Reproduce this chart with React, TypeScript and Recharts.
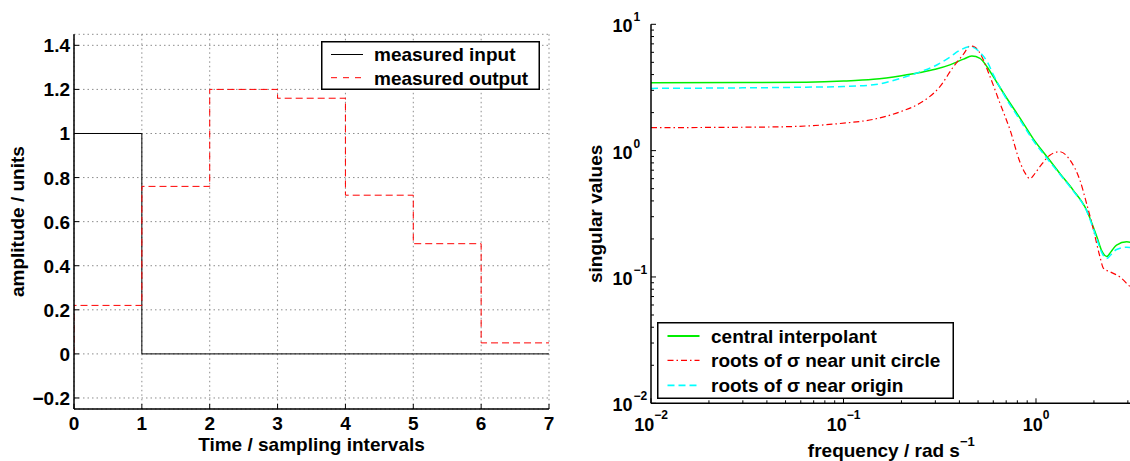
import React from "react";
import { CartesianGrid, Label, Legend, Line, LineChart, XAxis, YAxis } from "recharts";

const FONT = '"Liberation Sans", Arial, Helvetica, sans-serif';
const MINUS = "\u2212";

// left panel: sampled input / output sequences
const sampleTimes = [0, 1, 2, 3, 4, 5, 6, 7];
const inputValues = [1, 0, 0, 0, 0, 0, 0, 0];
const outputTimes = [0, 0, 1, 2, 3, 4, 5, 6, 7];
const outputValues = [0, 0.22, 0.76, 1.2, 1.16, 0.72, 0.5, 0.05, 0.05];
const timeTicks = [0, 1, 2, 3, 4, 5, 6, 7];
const amplitudeTicks = [-0.2, 0, 0.2, 0.4, 0.6, 0.8, 1, 1.2, 1.4];
const leftLegendNames = ["measured input", "measured output"];

// right panel: singular values vs frequency (log-log)
const centralFreq = [0.01, 0.03, 0.064, 0.1, 0.143, 0.2, 0.25, 0.3, 0.357, 0.42, 0.464, 0.512, 0.56, 0.6, 0.704, 0.826, 0.968, 1.14, 1.33, 1.56, 1.83, 2.07, 2.2, 2.33, 2.45, 2.62, 2.96, 3.1416];
const centralSv = [3.45, 3.46, 3.48, 3.55, 3.67, 3.92, 4.15, 4.4, 4.77, 5.3, 5.6, 5.38, 4.55, 3.85, 2.61, 1.81, 1.24, 0.895, 0.66, 0.487, 0.339, 0.208, 0.16, 0.145, 0.158, 0.179, 0.19, 0.187];
const circleFreq = [0.01, 0.043, 0.096, 0.143, 0.197, 0.249, 0.317, 0.372, 0.42, 0.454, 0.48, 0.512, 0.577, 0.65, 0.733, 0.826, 0.88, 0.931, 0.98, 1.05, 1.18, 1.33, 1.5, 1.69, 1.83, 1.99, 2.15, 2.24, 2.42, 2.73, 3.08, 3.1416];
const circleSv = [1.52, 1.54, 1.64, 1.77, 2.03, 2.37, 3.21, 4.6, 5.8, 6.73, 6.6, 5.89, 3.85, 2.37, 1.46, 0.81, 0.66, 0.6, 0.65, 0.75, 0.92, 0.98, 0.844, 0.585, 0.383, 0.235, 0.144, 0.117, 0.11, 0.1, 0.084, 0.082];
const originFreq = [0.01, 0.03, 0.064, 0.1, 0.143, 0.2, 0.25, 0.3, 0.357, 0.4, 0.454, 0.512, 0.56, 0.6, 0.704, 0.826, 0.968, 1.14, 1.33, 1.56, 1.83, 2.07, 2.2, 2.33, 2.45, 2.62, 2.96, 3.1416];
const originSv = [3.11, 3.14, 3.18, 3.22, 3.32, 3.75, 4.2, 4.7, 5.5, 6.2, 6.65, 6.0, 5.0, 4.0, 2.55, 1.75, 1.2, 0.87, 0.65, 0.48, 0.335, 0.2, 0.155, 0.14, 0.15, 0.165, 0.172, 0.17];
const freqDecades = [0.01, 0.1, 1];
const svDecades = [0.01, 0.1, 1, 10];
const minorSteps = [2, 3, 4, 5, 6, 7, 8, 9];
const rightLegendNames = ["central interpolant", "roots of \u03c3 near unit circle", "roots of \u03c3 near origin"];

const FREQ_MAX = Math.PI; // Nyquist, axis runs past the picture edge

const withMinors = (decades: number[], max: number) => {
  const out: number[] = [...decades];
  decades.forEach((d) => minorSteps.forEach((m) => d * m <= max && out.push(d * m)));
  return out.sort((a, b) => a - b);
};
const freqTicks = withMinors(freqDecades, FREQ_MAX);
const svTicks = withMinors(svDecades.slice(0, 3), 10).concat([10]);

const fmtAmp = (v: number) => {
  const s = Number.isInteger(v) ? String(v) : Math.abs(v).toFixed(1);
  return v < 0 ? MINUS + s : s;
};
const fmtExp = (v: number) => {
  const e = Math.round(Math.log10(v));
  return e < 0 ? MINUS + Math.abs(e) : String(e);
};

const txt = { fontFamily: FONT, fontWeight: 700, fill: "#000" } as const;

function LinTick(props: any) {
  const { x, y, payload, side } = props;
  const L = 5;
  const v = payload.value;
  if (side === "bottom")
    return (
      <g>
        <line x1={x} y1={y} x2={x} y2={y - L} stroke="#000" />
        <text x={x} y={y + 21} textAnchor="middle" fontSize={19} {...txt}>{String(v)}</text>
      </g>
    );
  if (side === "left")
    return (
      <g>
        <line x1={x} y1={y} x2={x + L} y2={y} stroke="#000" />
        <text x={x - 4} y={y + 7} textAnchor="end" fontSize={19} {...txt}>{fmtAmp(v)}</text>
      </g>
    );
  if (side === "top") return <line x1={x} y1={y} x2={x} y2={y + L} stroke="#000" />;
  return <line x1={x} y1={y} x2={x - L} y2={y} stroke="#000" />;
}

function LogTick(props: any) {
  const { x, y, payload, side, majors } = props;
  const v = payload.value;
  const major = majors.includes(v);
  const L = major ? 5 : 3;
  if (side === "bottom")
    return (
      <g>
        <line x1={x} y1={y} x2={x} y2={y - L} stroke="#000" />
        {major && (
          <text x={x} y={y + 28} textAnchor="middle" fontSize={18} {...txt}>
            10<tspan dy={-12} fontSize={12}>{fmtExp(v)}</tspan>
          </text>
        )}
      </g>
    );
  if (side === "left")
    return (
      <g>
        <line x1={x} y1={y} x2={x + L} y2={y} stroke="#000" />
        {major && (
          <>
            <text x={x - 18.5} y={y + 8} textAnchor="end" fontSize={18} {...txt}>10</text>
            <text x={x - 17.5} y={y - 3} textAnchor="start" fontSize={12} {...txt}>{fmtExp(v)}</text>
          </>
        )}
      </g>
    );
  if (side === "top") return <line x1={x} y1={y} x2={x} y2={y + L} stroke="#000" />;
  return <line x1={x} y1={y} x2={x - L} y2={y} stroke="#000" />;
}

const frame = { stroke: "#000", strokeWidth: 1.5 };

function LeftLegend() {
  return (
    <svg width={219} height={49} style={{ display: "block" }}>
      <rect x={0.75} y={0.75} width={217.5} height={47.5} fill="#fff" stroke="#000" strokeWidth={1.5} />
      <line x1={10} y1={13.5} x2={42} y2={13.5} stroke="#000" strokeWidth={1} />
      <line x1={10} y1={36.7} x2={42} y2={36.7} stroke="#ff0000" strokeWidth={1} strokeDasharray="6 6" />
      <text x={53} y={20.3} fontSize={19} {...txt}>{leftLegendNames[0]}</text>
      <text x={53} y={43.5} fontSize={19} {...txt}>{leftLegendNames[1]}</text>
    </svg>
  );
}

function RightLegend() {
  const rows = [14, 38.3, 63.3];
  const styles = [
    { stroke: "#00ee00", dash: undefined, w: 1.8 },
    { stroke: "#ff0000", dash: "6 3 1.5 3", w: 1.2 },
    { stroke: "#00ffff", dash: "7 4", w: 1.8 },
  ];
  return (
    <svg width={297} height={77} style={{ display: "block" }}>
      <rect x={0.75} y={0.75} width={295.5} height={75.5} fill="#fff" stroke="#000" strokeWidth={1.5} />
      {rows.map((cy, i) => (
        <g key={i}>
          <line x1={10.5} y1={cy} x2={42.5} y2={cy} stroke={styles[i].stroke} strokeWidth={styles[i].w} strokeDasharray={styles[i].dash} />
          <text x={54} y={cy + 6.8} fontSize={19} {...txt}>{rightLegendNames[i]}</text>
        </g>
      ))}
    </svg>
  );
}

function StepPanel() {
  const inputData = sampleTimes.map((t, i) => ({ t, v: inputValues[i] }));
  const outputData = outputTimes.map((t, i) => ({ t, v: outputValues[i] }));
  return (
    <LineChart width={570} height={461} margin={{ top: 34.3, right: 21, bottom: 0, left: 0 }}>
      <CartesianGrid stroke="#8c8c8c" strokeDasharray="1.5 3" />
      <XAxis dataKey="t" type="number" domain={[0, 7]} ticks={timeTicks} interval={0} allowDataOverflow
        height={52} tickSize={0} tickMargin={0} tickLine={false} axisLine={frame} tick={<LinTick side="bottom" />}>
        <Label content={() => (
          <text x={311.5} y={451} textAnchor="middle" fontSize={19} {...txt}>Time / sampling intervals</text>
        )} />
      </XAxis>
      <XAxis xAxisId="top" orientation="top" dataKey="t" type="number" domain={[0, 7]} ticks={timeTicks} interval={0}
        allowDataOverflow height={0} tickSize={0} tickMargin={0} tickLine={false} axisLine={frame} tick={<LinTick side="top" />} />
      <YAxis type="number" domain={[-0.25, 1.45]} ticks={amplitudeTicks} interval={0} allowDataOverflow
        width={74} tickSize={0} tickMargin={0} tickLine={false} axisLine={frame} tick={<LinTick side="left" />}>
        <Label content={() => (
          <text x={24} y={221.6} textAnchor="middle" transform="rotate(-90, 24, 221.6)" fontSize={19} {...txt}>amplitude / units</text>
        )} />
      </YAxis>
      <YAxis yAxisId="right" orientation="right" type="number" domain={[-0.25, 1.45]} ticks={amplitudeTicks} interval={0}
        allowDataOverflow width={0} tickSize={0} tickMargin={0} tickLine={false} axisLine={frame} tick={<LinTick side="right" />} />
      <Line data={inputData} dataKey="v" name={leftLegendNames[0]} type="stepAfter" stroke="#000" strokeWidth={1}
        dot={false} activeDot={false} isAnimationActive={false} />
      <Line data={outputData} dataKey="v" name={leftLegendNames[1]} type="stepAfter" stroke="#ff0000" strokeWidth={1}
        strokeDasharray="7 4" dot={false} activeDot={false} isAnimationActive={false} />
      <Legend layout="horizontal" verticalAlign="middle" align="center" content={() => <LeftLegend />}
        wrapperStyle={{ left: 321, top: 41, width: 219, height: 49 }} />
    </LineChart>
  );
}

function SigmaPanel() {
  const central = centralFreq.map((f, i) => ({ f, s: centralSv[i] }));
  const circle = circleFreq.map((f, i) => ({ f, s: circleSv[i] }));
  const origin = originFreq.map((f, i) => ({ f, s: originSv[i] }));
  return (
    <LineChart width={600} height={461} margin={{ top: 24.3, right: 38.3, bottom: 0, left: 0 }}>
      <XAxis dataKey="f" type="number" scale="log" domain={[0.01, FREQ_MAX]} ticks={freqTicks} interval={0} allowDataOverflow
        height={57.7} tickSize={0} tickMargin={0} tickLine={false} axisLine={frame} tick={<LogTick side="bottom" majors={freqDecades} />}>
        <Label content={() => (
          <text x={321.3} y={457} textAnchor="middle" fontSize={19} {...txt}>
            frequency / rad s<tspan dy={-11} fontSize={13}>{MINUS}1</tspan>
          </text>
        )} />
      </XAxis>
      <XAxis xAxisId="top" orientation="top" dataKey="f" type="number" scale="log" domain={[0.01, FREQ_MAX]} ticks={freqTicks}
        interval={0} allowDataOverflow height={0} tickSize={0} tickMargin={0} tickLine={false} axisLine={frame}
        tick={<LogTick side="top" majors={freqDecades} />} />
      <YAxis type="number" scale="log" domain={[0.01, 10]} ticks={svTicks} interval={0} allowDataOverflow
        width={81} tickSize={0} tickMargin={0} tickLine={false} axisLine={frame} tick={<LogTick side="left" majors={svDecades} />}>
        <Label content={() => (
          <text x={32} y={213.8} textAnchor="middle" transform="rotate(-90, 32, 213.8)" fontSize={19} {...txt}>singular values</text>
        )} />
      </YAxis>
      <YAxis yAxisId="right" orientation="right" type="number" scale="log" domain={[0.01, 10]} ticks={svTicks} interval={0}
        allowDataOverflow width={0} tickSize={0} tickMargin={0} tickLine={false} axisLine={frame}
        tick={<LogTick side="right" majors={svDecades} />} />
      <Line data={central} dataKey="s" name={rightLegendNames[0]} type="monotone" stroke="#00ee00" strokeWidth={1.5}
        dot={false} activeDot={false} isAnimationActive={false} />
      <Line data={circle} dataKey="s" name={rightLegendNames[1]} type="monotone" stroke="#ff0000" strokeWidth={1.2}
        strokeDasharray="6 3 1.5 3" dot={false} activeDot={false} isAnimationActive={false} />
      <Line data={origin} dataKey="s" name={rightLegendNames[2]} type="monotone" stroke="#00ffff" strokeWidth={1.5}
        strokeDasharray="7 4" dot={false} activeDot={false} isAnimationActive={false} />
      <Legend layout="horizontal" verticalAlign="middle" align="center" content={() => <RightLegend />}
        wrapperStyle={{ left: 87, top: 321.7, width: 297, height: 77 }} />
    </LineChart>
  );
}

export default function App() {
  return (
    <div style={{ position: "absolute", left: 0, top: 0, width: 1130, height: 461, overflow: "hidden", background: "#fff" }}>
      <div style={{ position: "absolute", left: 0, top: 0 }}>
        <StepPanel />
      </div>
      <div style={{ position: "absolute", left: 570, top: 0 }}>
        <SigmaPanel />
      </div>
    </div>
  );
}
